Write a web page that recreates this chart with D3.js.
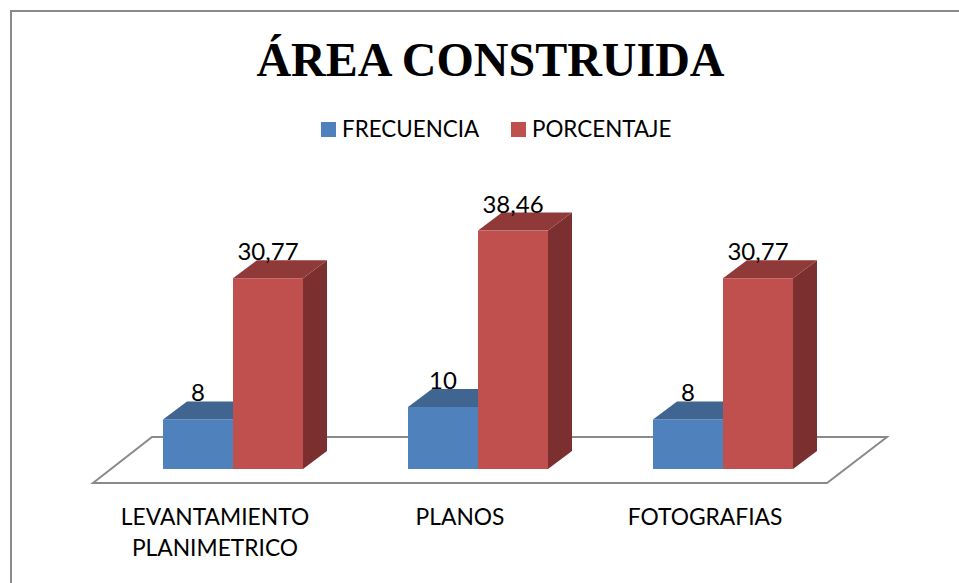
<!DOCTYPE html>
<html>
<head>
<meta charset="utf-8">
<script src="https://cdn.jsdelivr.net/npm/d3@7"></script>
<style>
  html, body { margin: 0; padding: 0; background: #fff; }
  svg { display: block; }
  text { fill: #000; }
  .lbl { font-family: Lato, "Open Sans", sans-serif; font-size: 22.8px; }
  .legend-lbl { font-size: 22.4px; }
  .value-lbl { font-size: 24px; }
</style>
</head>
<body>
<div id="chart"></div>
<script>
// Chart values
const categories = ["LEVANTAMIENTO PLANIMETRICO", "PLANOS", "FOTOGRAFIAS"];
const seriesNames = ["FRECUENCIA", "PORCENTAJE"];
const frecuencia = [8, 10, 8];
const porcentaje = [30.77, 38.46, 30.77];
const labelsFrecuencia = ["8", "10", "8"];
const labelsPorcentaje = ["30,77", "38,46", "30,77"];

const width = 959, height = 583;

// Face colours per series: front, top, side
const faces = [
  { front: "#4f81bd", top: "#3f6590", side: "#2f4d70" },
  { front: "#c0504d", top: "#8f3a38", side: "#7b2f2e" }
];

const svg = d3.select("#chart").append("svg")
  .attr("width", width)
  .attr("height", height);

// Chart frame, only the left and top edges show in the crop
svg.append("path")
  .attr("d", d3.line()([[11, height], [11, 11], [width, 11]]))
  .attr("fill", "none")
  .attr("stroke", "#8a8a8a")
  .attr("stroke-width", 2);

// Title
svg.append("text")
  .attr("x", 490.5).attr("y", 76)
  .attr("text-anchor", "middle")
  .style("font-family", '"Liberation Serif", serif')
  .style("font-weight", "700")
  .style("font-size", "48px")
  .text("ÁREA CONSTRUIDA");

// ── Legend ──────────────────────────────────────────────────────────────────
const legendX = [321, 511];
seriesNames.forEach((name, i) => {
  svg.append("rect")
    .attr("x", legendX[i]).attr("y", 122)
    .attr("width", 15).attr("height", 15)
    .attr("fill", faces[i].front);
  svg.append("text")
    .attr("class", "lbl legend-lbl")
    .attr("x", legendX[i] + 21).attr("y", 137)
    .text(name);
});

// ── Scales ──────────────────────────────────────────────────────────────────
const floorY = 483;
const scaleX = d3.scaleBand()
  .domain(categories)
  .range([93, 828])
  .paddingInner(105 / 245)
  .paddingOuter(105 / 490);

const scaleSeries = d3.scaleBand()
  .domain(seriesNames)
  .range([0, scaleX.bandwidth()]);

const barBaseY = 469;
const scaleY = d3.scaleLinear().domain([0, 40]).range([barBaseY, barBaseY - 248]);

// Oblique projection offsets
const floorDepth = { dx: 59, dy: -46 };
const barShift = 17.5;                   // bars sit part way back on the floor
const barDepth = { dx: 24, dy: -18 };

// ── Floor ───────────────────────────────────────────────────────────────────
const [x0, x1] = [93, 827];
svg.append("path")
  .attr("d", d3.line()([
    [x0, floorY], [x1, floorY],
    [x1 + floorDepth.dx + 1, floorY + floorDepth.dy],
    [x0 + floorDepth.dx, floorY + floorDepth.dy]
  ]) + "Z")
  .attr("fill", "#fff")
  .attr("stroke", "#8a8a8a")
  .attr("stroke-width", 2);

// ── Bars ────────────────────────────────────────────────────────────────────
const polygon = pts => d3.line()(pts) + "Z";

categories.forEach((cat, ci) => {
  [frecuencia, porcentaje].forEach((values, si) => {
    const left = scaleX(cat) + scaleSeries(seriesNames[si]) + barShift;
    const right = left + scaleSeries.bandwidth();
    const top = scaleY(values[ci]);
    const g = svg.append("g");

    g.append("path")
      .attr("d", polygon([[right, barBaseY], [right + barDepth.dx, barBaseY + barDepth.dy],
                          [right + barDepth.dx, top + barDepth.dy], [right, top]]))
      .attr("fill", faces[si].side);
    g.append("path")
      .attr("d", polygon([[left, top], [right, top],
                          [right + barDepth.dx, top + barDepth.dy], [left + barDepth.dx, top + barDepth.dy]]))
      .attr("fill", faces[si].top);
    g.append("rect")
      .attr("x", left).attr("y", top)
      .attr("width", right - left).attr("height", barBaseY - top)
      .attr("fill", faces[si].front);
  });
});

// Data labels go on last so they sit over the bar tops
categories.forEach((cat, ci) => {
  [labelsFrecuencia, labelsPorcentaje].forEach((labels, si) => {
    const values = si === 0 ? frecuencia : porcentaje;
    svg.append("text")
      .attr("class", "lbl value-lbl")
      .attr("x", scaleX(cat) + scaleSeries(seriesNames[si]) + barShift + scaleSeries.bandwidth() / 2)
      .attr("y", scaleY(values[ci]) - 18)
      .attr("text-anchor", "middle")
      .text(labels[ci]);
  });
});

// ── Category labels ─────────────────────────────────────────────────────────
categories.forEach(cat => {
  const words = cat.split(" ");
  words.forEach((w, i) => {
    svg.append("text")
      .attr("class", "lbl")
      .attr("x", scaleX(cat) + scaleX.bandwidth() / 2 - 0.5)
      .attr("y", 525 + i * 31)
      .attr("text-anchor", "middle")
      .text(w);
  });
});
</script>
</body>
</html>
